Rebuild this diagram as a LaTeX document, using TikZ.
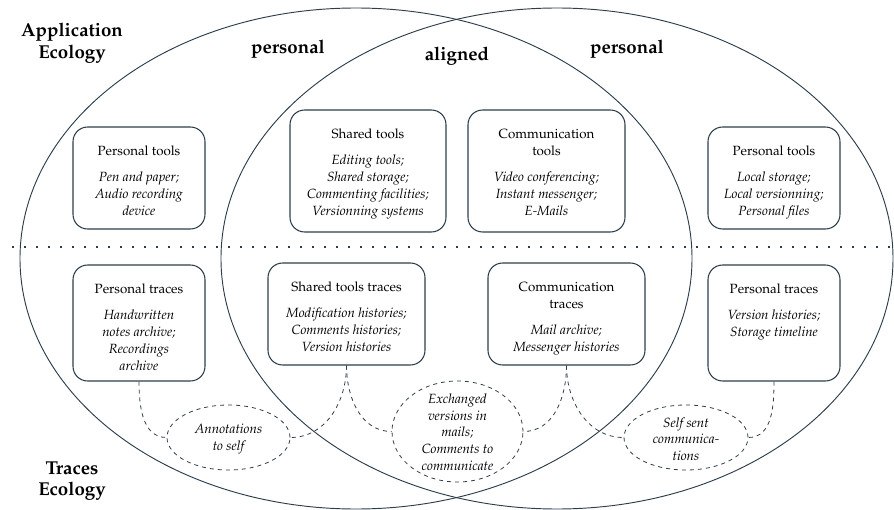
\documentclass[tikz,border=0pt]{standalone}
\usepackage[T1]{fontenc}
\usepackage{mathpazo}
\usetikzlibrary{fit,shapes.geometric}
\definecolor{ln}{HTML}{2C3E4C}
\tikzset{
  box/.style={draw=ln, line width=0.8pt, rounded corners=11pt, inner sep=0pt},
  boxtext/.style={anchor=north, align=center, inner sep=0pt, font=\fontsize{10}{12.75}\selectfont},
  big/.style={font=\fontsize{14}{16}\selectfont\bfseries, align=center, inner sep=0pt},
  eco/.style={draw=ln, line width=0.7pt},
  dell/.style={draw=ln, dashed, ellipse, inner sep=0pt, line width=0.6pt},
  elltext/.style={align=center, inner sep=0pt, font=\fontsize{10}{12.5}\selectfont\itshape},
  conn/.style={draw=ln, dashed, line width=0.6pt},
  sepline/.style={draw=ln, line width=1.6pt, dash pattern=on 1.5pt off 7.5pt},
}
\begin{document}
\begin{tikzpicture}[x=0.75pt,y=-0.75pt]
\useasboundingbox (0,0) rectangle (894,510);
% big ellipses
\draw[eco] (356,258.5) ellipse [x radius=336, y radius=250.5];
\draw[eco] (557,258.5) ellipse [x radius=336, y radius=250.5];
% separator
\draw[sepline] (12,247) -- (894,247);
% labels
\node[big] (appeco) at (72,43) {Application\\Ecology};
\node[big] (traceco) at (72,481) {Traces\\Ecology};
\node[big] (pers1) at (288,49) {personal};
\node[big] (align) at (457,56) {aligned};
\node[big] (pers2) at (627,49) {personal};
% top boxes
\node[box, fit={(73,127) (205,229)}] (ptl) {};
\node[boxtext] (ptlt) at (139,145.5) {Personal tools\\[6.75pt]\textit{Pen and paper;}\\\textit{Audio recording}\\\textit{device}};
\node[box, fit={(290,110) (446,232)}] (st) {};
\node[boxtext] (stt) at (368,128.5) {Shared tools\\[6.75pt]\textit{Editing tools;}\\\textit{Shared storage;}\\\textit{Commenting facilities;}\\\textit{Versionning systems}};
\node[box, fit={(468,110) (625,232)}] (ct) {};
\node[boxtext] (ctt) at (546.5,128.5) {Communication\\tools\\[6.75pt]\textit{Video conferencing;}\\\textit{Instant messenger;}\\\textit{E-Mails}};
\node[box, fit={(708,127) (840,229)}] (ptr) {};
\node[boxtext] (ptrt) at (774,145.5) {Personal tools\\[6.75pt]\textit{Local storage;}\\\textit{Local versionning;}\\\textit{Personal files}};
% bottom boxes
\node[box, fit={(73,265) (205,381)}] (pxl) {};
\node[boxtext] (pxlt) at (139,283.5) {Personal traces\\[6.75pt]\textit{Handwritten}\\\textit{notes archive;}\\\textit{Recordings}\\\textit{archive}};
\node[box, fit={(268,263) (425,365)}] (sx) {};
\node[boxtext] (sxt) at (346.5,281.5) {Shared tools traces\\[6.75pt]\textit{Modification histories;}\\\textit{Comments histories;}\\\textit{Version histories}};
\node[box, fit={(488,263) (645,365)}] (cx) {};
\node[boxtext] (cxt) at (566.5,281.5) {Communication\\traces\\[6.75pt]\textit{Mail archive;}\\\textit{Messenger histories}};
\node[box, fit={(708,265) (840,381)}] (pxr) {};
\node[boxtext] (pxrt) at (774,283.5) {Personal traces\\[6.75pt]\textit{Version histories;}\\\textit{Storage timeline}};
% dashed ellipses
\node[dell, minimum width=92.25pt, minimum height=48.75pt] (ann) at (228.5,437.5) {};
\node[elltext] (annt) at (228.5,439) {Annotations\\to self};
\node[dell, minimum width=98.25pt, minimum height=75.75pt] (exch) at (457.5,431.5) {};
\node[elltext] (excht) at (457.5,432) {Exchanged\\versions in\\mails;\\Comments to\\communicate};
\node[dell, minimum width=93pt, minimum height=48.75pt] (self) at (686,437.5) {};
\node[elltext] (selft) at (686,439) {Self sent\\communica-\\tions};
% connectors
\draw[conn] (pxl.south) to[out=-90,in=180] (ann.west);
\draw[conn] (sx.south) to[out=-90,in=0] (ann.east);
\draw[conn] (sx.south) to[out=-90,in=180] (exch.west);
\draw[conn] (cx.south) to[out=-90,in=0] (exch.east);
\draw[conn] (cx.south) to[out=-90,in=180] (self.west);
\draw[conn] (pxr.south) to[out=-90,in=0] (self.east);
\end{tikzpicture}
\end{document}
